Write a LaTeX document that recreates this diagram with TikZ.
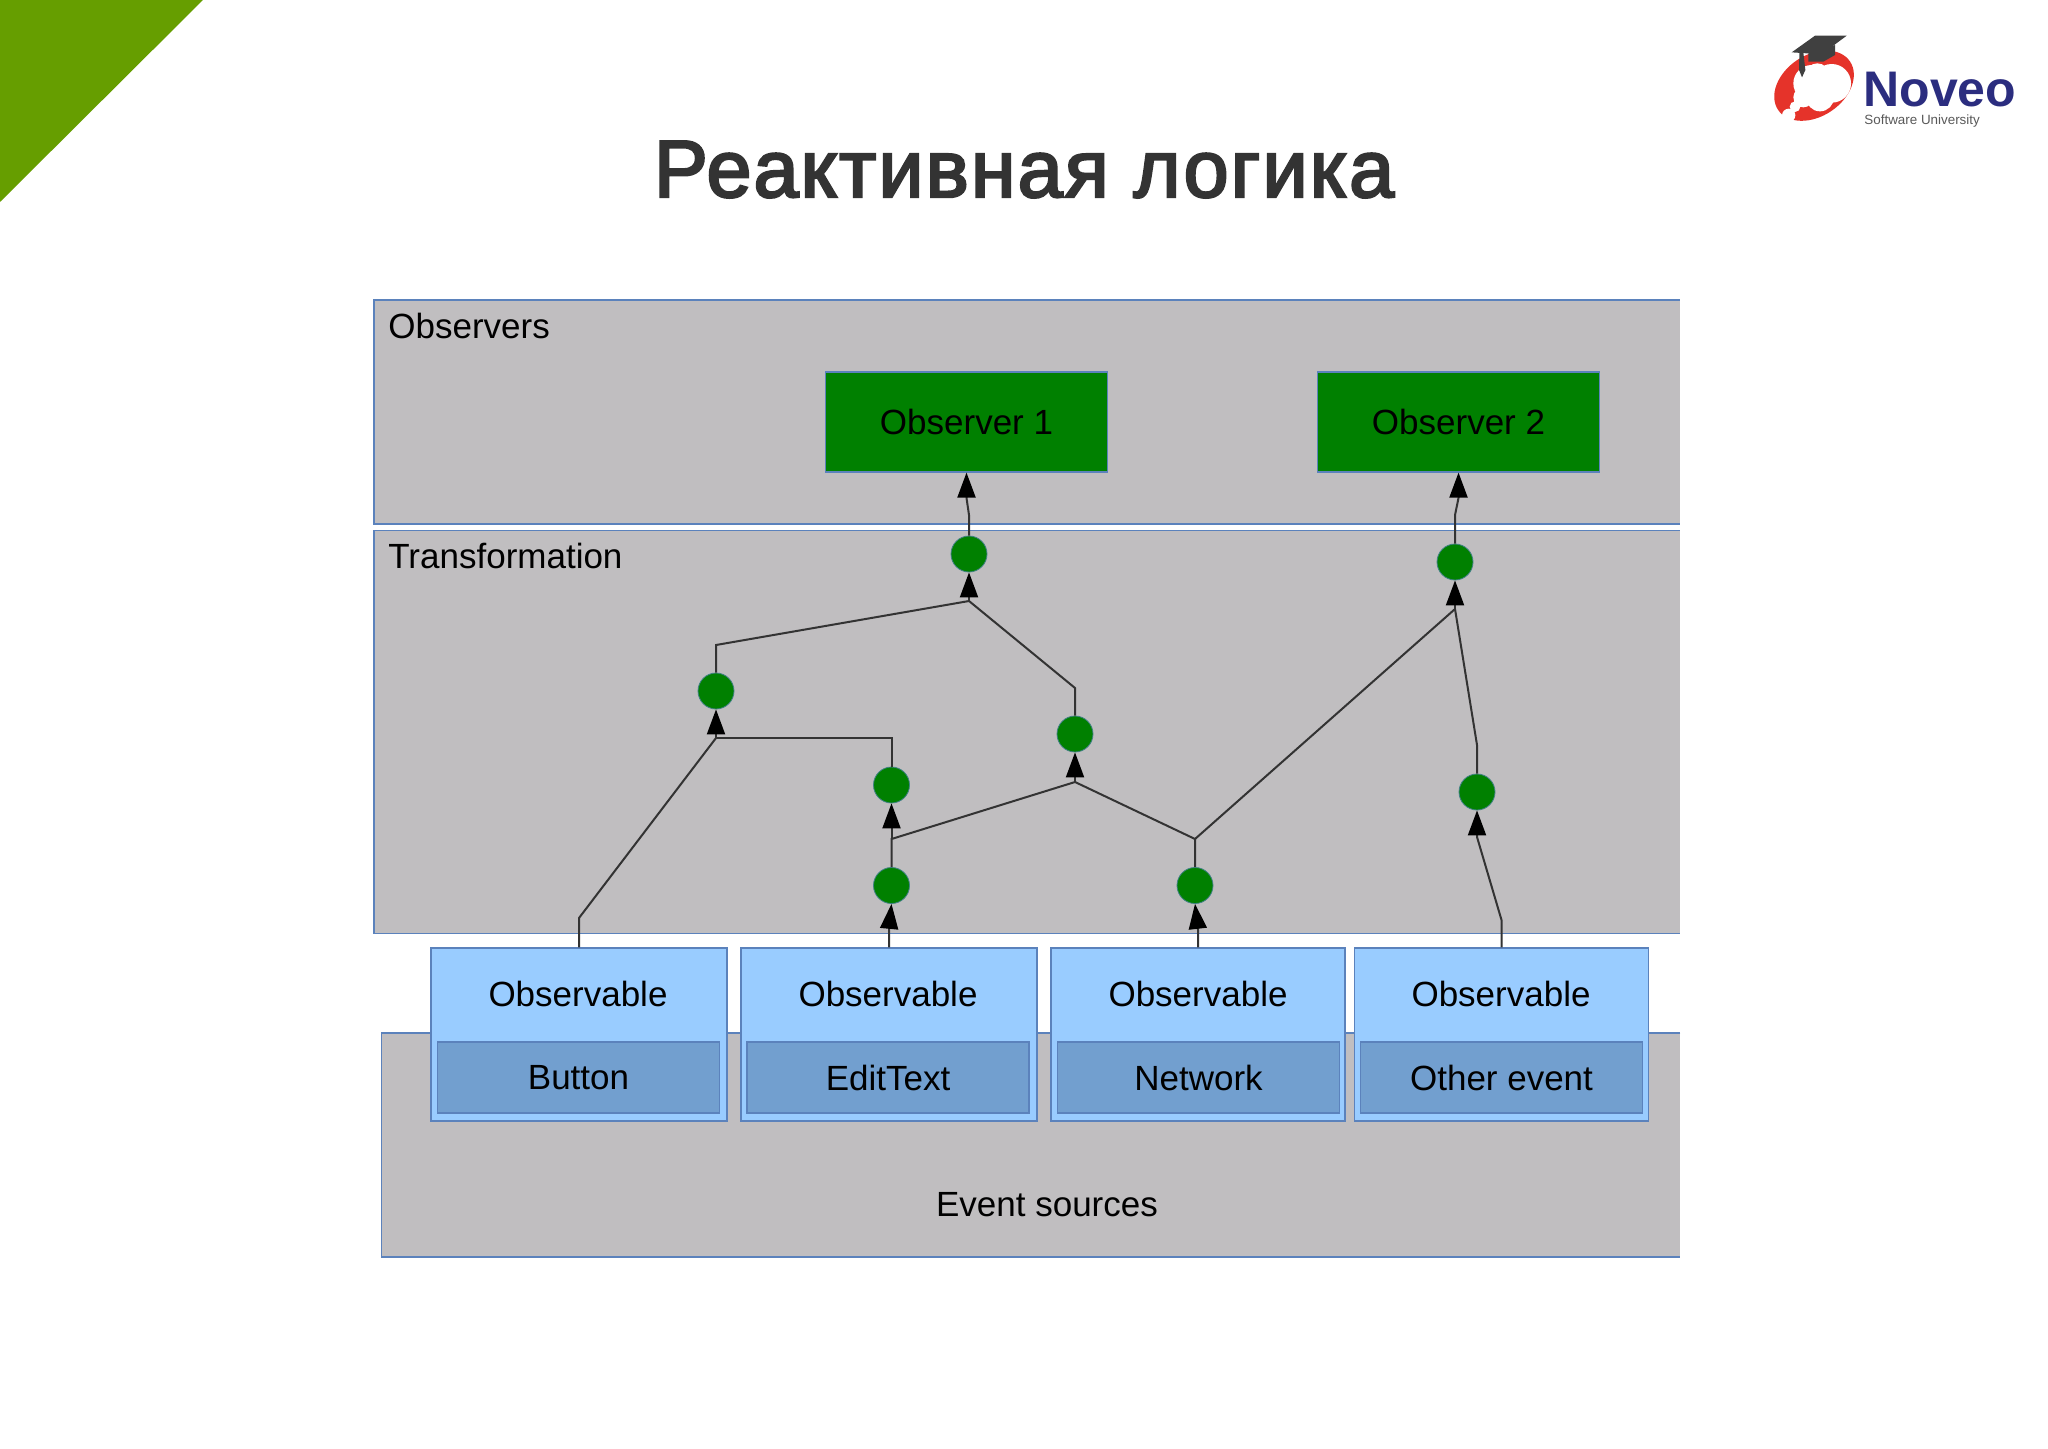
\documentclass[tikz,border=0pt]{standalone}
\usepackage{fontspec}
\setmainfont{Liberation Sans}
\newfontfamily\titlefont{Liberation Sans}[FakeBold=3,LetterSpace=2.6]
\usetikzlibrary{arrows.meta,positioning}
\definecolor{panelgray}{HTML}{C0BEC0}
\definecolor{panelline}{HTML}{5B82BC}
\definecolor{obsblue}{HTML}{99CCFF}
\definecolor{srcblue}{HTML}{729FCF}
\definecolor{nodegreen}{HTML}{008000}
\definecolor{cornergreen}{HTML}{669E00}
\definecolor{logored}{HTML}{E5332A}
\definecolor{logonavy}{HTML}{2B2D7F}

\begin{document}
\begin{tikzpicture}[x=0.5pt,y=-0.5pt]
\useasboundingbox (0,0) rectangle (2048,1449);
\tikzstyle{panel}=[fill=panelgray,rectangle,inner sep=0pt]
\tikzstyle{panelborder}=[draw=panelline,line width=0.7pt]
\tikzstyle{label}=[inner sep=0pt,font=\fontsize{17.5}{20}\selectfont,text=black]
\tikzstyle{observer}=[label,draw=panelline,fill=nodegreen,rectangle,line width=0.6pt,minimum width=141pt,minimum height=50pt]
\tikzstyle{obsbox}=[draw=panelline,fill=obsblue,rectangle,line width=0.7pt,inner sep=0pt,minimum height=86.5pt]
\tikzstyle{srcbox}=[label,draw=panelline,fill=srcblue,rectangle,line width=0.6pt,minimum width=141pt,minimum height=35.5pt]
\tikzstyle{op}=[draw=panelline!70!nodegreen,fill=nodegreen,circle,inner sep=0pt,minimum size=18pt,line width=0.4pt]
\tikzstyle{wire}=[draw=black!80,line width=1pt]
\tikzstyle{flow}=[wire,-{Triangle[length=12.5pt,width=9pt,color=black]}]

% corner and title
\fill[cornergreen] (0,0) -- (203,0) -- (0,202) -- cycle;
\node[anchor=base,inner sep=0pt,text=black!80,font=\titlefont\fontsize{40.5}{46}\selectfont] (title) at (1024,197) {Реактивная логика};

% logo
\begin{scope}[shift={(1740,20)},x=0.1667pt,y=-0.1667pt]
\fill[logored,rotate around={34:(222,197)}] (222,197) ellipse (130 and 92);
\fill[white] (215,190) circle (55) (275,190) circle (58) (240,232) circle (42) (190,232) circle (30) (165,260) circle (16) (146,286) circle (20) (232,165) circle (35);
\fill[black!75] (155,97) -- (225,47) -- (320,47) -- (245,103) -- cycle;
\fill[black!75] (205,100) -- (205,125) -- (250,125) -- (285,105) -- (285,75) -- cycle;
\fill[black!75] (178,98) -- (190,98) -- (196,150) -- (186,172) -- (177,150) -- cycle;
\end{scope}
\node[anchor=base west,inner sep=0pt,text=logonavy,font=\bfseries\fontsize{25}{28}\selectfont] (logoname) at (1863,107) {Noveo};
\node[anchor=base west,inner sep=0pt,text=black!65,font=\fontsize{6.7}{8}\selectfont] (logosub) at (1864,125) {Software University};

% panels
\node[panel,minimum width=652.5pt,minimum height=111.5pt] (observers) at (1027,412) {};
\node[panel,minimum width=652.5pt,minimum height=201pt] (transformation) at (1027,732) {};
\node[panel,minimum width=649pt,minimum height=111.5pt] (sources) at (1031,1145) {};
\draw[panelborder] (observers.north east) -- (observers.north west) -- (observers.south west) -- (observers.south east);
\draw[panelborder] (transformation.north east) -- (transformation.north west) -- (transformation.south west) -- (transformation.south east);
\draw[panelborder] (sources.north east) -- (sources.north west) -- (sources.south west) -- (sources.south east);
\node[label,anchor=west] (obstitle) at (388,326) {Observers};
\node[label,anchor=west] (transtitle) at (388,556) {Transformation};
\node[label] (srctitle) at (1047,1205) {Event sources};

% observers
\node[observer] (ob1) at (966.5,422) {Observer 1};
\node[observer] (ob2) at (1458.5,422) {Observer 2};

% observables
\node[obsbox,minimum width=148pt] (box1) at (579,1034.5) {};
\node[obsbox,minimum width=148pt] (box2) at (889,1034.5) {};
\node[obsbox,minimum width=147pt] (box3) at (1198,1034.5) {};
\node[obsbox,minimum width=147pt] (box4) at (1501.5,1034.5) {};
\node[label] (able1) at (578,994) {Observable};
\node[label] (able2) at (888,994) {Observable};
\node[label] (able3) at (1198,994) {Observable};
\node[label] (able4) at (1501,994) {Observable};
\node[srcbox] (src1) at (578.5,1077.5) {Button};
\node[srcbox] (src2) at (888,1077.5) {EditText};
\node[srcbox] (src3) at (1198.5,1077.5) {Network};
\node[srcbox] (src4) at (1501.5,1077.5) {Other event};

% operators
\node[op] (opa) at (969,554) {};
\node[op] (opb) at (1455,562) {};
\node[op] (opc) at (716,691) {};
\node[op] (opd) at (1075,734) {};
\node[op] (ope) at (891.5,785) {};
\node[op] (opf) at (1477,792) {};
\node[op] (opg) at (891.5,885.5) {};
\node[op] (oph) at (1195,885.5) {};

% joints
\coordinate (ja) at (969,601);
\coordinate (jb) at (1455,609);
\coordinate (jc) at (716,738);
\coordinate (jd) at (1075,782);
\coordinate (je) at (891.5,839);
\coordinate (jf) at (1195,839);

% connectors
\draw[flow] (opa.north) -- (969,515) -- (966.5,498) -- (ob1.south);
\draw[flow] (opb.north) -- (1455,515) -- (1458.5,498) -- (ob2.south);
\draw[flow] (ja) -- (opa.south);
\draw[flow] (jb) -- (opb.south);
\draw[flow] (jc) -- (opc.south);
\draw[flow] (jd) -- (opd.south);
\draw[flow] (je) -- (ope.south);
\draw[wire] (opc.north) -- (716,645) -- (ja);
\draw[wire] (opd.north) -- (1075,688) -- (ja);
\draw[wire] (ope.north) -- (891.5,738) -- (jc);
\draw[wire] (opg.north) -- (je) -- (jd);
\draw[wire] (oph.north) -- (jf) -- (jd);
\draw[wire] (jf) -- (jb);
\draw[wire] (opf.north) -- (1477,745) -- (jb);
\draw[wire] (box1.north) -- (579,918) -- (jc);
\draw[flow] (box2.north) -- (889,930) -- (opg.south);
\draw[flow] (box3.north) -- (1198,930) -- (oph.south);
\draw[flow] (box4.north) -- (1501.5,920) -- (1477,837) -- (opf.south);
\end{tikzpicture}
\end{document}
